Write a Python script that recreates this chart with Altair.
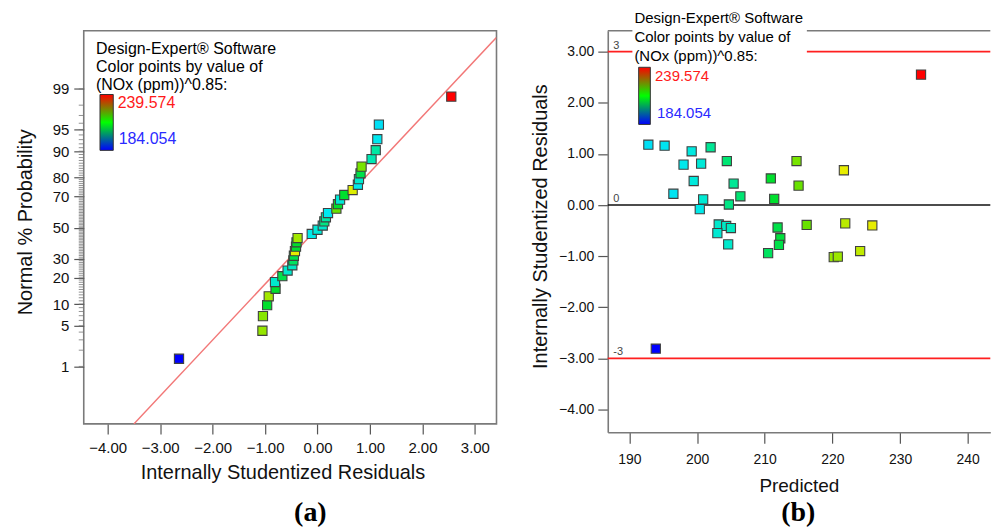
import altair as alt
import pandas as pd
from statistics import NormalDist

# ---------------- data ----------------
# (a) normal probability plot of residuals
prob_resid = [-2.64, -1.05, -1.04, -0.96, -0.93, -0.80, -0.81, -0.67, -0.57, -0.48,
              -0.46, -0.45, -0.43, -0.41, -0.40, -0.38, -0.11, 0.00, 0.10, 0.13,
              0.16, 0.20, 0.36, 0.39, 0.43, 0.51, 0.67, 0.77, 0.79, 0.82,
              0.84, 1.03, 1.11, 1.14, 1.17, 2.55]
prob_pct = [1.4, 4.2, 6.9, 9.7, 12.5, 15.3, 18.1, 20.8, 23.6, 26.4,
            29.2, 31.9, 34.7, 37.5, 40.3, 43.1, 45.8, 48.6, 51.4, 54.2,
            56.9, 59.7, 62.5, 65.3, 68.1, 70.8, 73.6, 76.4, 79.2, 81.9,
            84.7, 87.5, 90.3, 93.1, 95.8, 98.6]
prob_value = [184.054, 218, 217, 211, 219, 211, 202, 210, 202, 203,
              209, 210, 225, 211, 211, 219, 199, 201, 202, 207,
              205, 198, 215, 211, 201, 211, 224, 198.5, 202, 210,
              216, 204, 205, 198, 197, 239.574]
line_resid = [-3.50, 3.41]
line_z = [-3.29, 3.19]
major_pct = [1, 5, 10, 20, 30, 50, 70, 80, 90, 95, 99]
minor_pct = list(range(1, 100))
left_x_ticks = [-4, -3, -2, -1, 0, 1, 2, 3]

# (b) residuals vs predicted
pred = [192.8, 195.2, 199.2, 202.0, 198.0, 200.6, 204.4, 214.7, 221.7, 199.5,
        205.4, 210.9, 215.0, 196.5, 206.4, 200.9, 211.4, 204.7, 200.4, 203.2,
        204.3, 205.0, 203.0, 204.6, 211.9, 216.2, 221.9, 225.9, 212.3, 212.1,
        210.5, 220.2, 220.8, 224.1, 233.1, 193.9]
resid = [1.18, 1.16, 1.05, 1.13, 0.79, 0.81, 0.86, 0.86, 0.68, 0.47,
         0.42, 0.52, 0.38, 0.22, 0.17, 0.11, 0.12, 0.01, -0.08, -0.38,
         -0.41, -0.45, -0.55, -0.77, -0.44, -0.39, -0.36, -0.40, -0.65, -0.78,
         -0.94, -1.02, -1.01, -0.90, 2.55, -2.81]
value = [197, 197.5, 200, 206, 198.5, 201, 208, 216, 225, 200.5,
         206, 211, 215, 197.5, 208, 201.5, 211, 207, 199, 202,
         202.5, 203, 201.5, 202, 210, 215, 221, 225, 210.5, 210,
         209, 218, 218.5, 221.5, 239.574, 184.054]
red_limits = [3, -3]
zero_limit = [0]
limit_vals = [3, 0, -3]
limit_text = ["3", "0", "-3"]
right_x_ticks = [190, 200, 210, 220, 230, 240]
right_y_ticks = [-4, -3, -2, -1, 0, 1, 2, 3]

legend_lines = ["Design-Expert® Software", "Color points by value of", "(NOx (ppm))^0.85:"]
val_hi, val_lo = "239.574", "184.054"

# ---------------- frames ----------------
nd = NormalDist()
left_df = pd.DataFrame({"resid": prob_resid, "pct": prob_pct, "value": prob_value})
line_df = pd.DataFrame({"resid": line_resid, "z": line_z})
minor_df = pd.DataFrame({"pct": minor_pct})
right_df = pd.DataFrame({"pred": pred, "resid": resid, "value": value})
red_df = pd.DataFrame({"r": red_limits})
zero_df = pd.DataFrame({"r": zero_limit})
lab_df = pd.DataFrame({"r": limit_vals, "t": limit_text})
one = pd.DataFrame({"k": [0]})

FONT = "Liberation Sans"
GRAY = "#7a7a7a"

color_scale = alt.Scale(domain=[184.054, 197.9, 211.8, 225.7, 239.574],
                        range=["#0000ff", "#00e8f0", "#00dd00", "#eeee00", "#ff0000"])

bar_fill = alt.LinearGradient(gradient="linear", x1=0, x2=0, y1=1, y2=0,
                              stops=[alt.GradientStop(color="#0000ff", offset=0),
                                     alt.GradientStop(color="#00ff00", offset=0.5),
                                     alt.GradientStop(color="#ff0000", offset=1)])


def txt(s, x, y, size, color="black", align="left", baseline="middle",
        font=FONT, weight="normal"):
    return alt.Chart(one).mark_text(text=s, fontSize=size, color=color, align=align,
                                    baseline=baseline, font=font, fontWeight=weight).encode(
        x=alt.value(x), y=alt.value(y))


def colorbar(x1, x2, y1, y2):
    return alt.Chart(one).mark_rect(fill=bar_fill, stroke="#333333", strokeWidth=1).encode(
        x=alt.value(x1), x2=alt.value(x2), y=alt.value(y1), y2=alt.value(y2))


# ---------------- panel (a) ----------------
LW, LH = 414, 394.4
lx_scale = alt.Scale(domain=[-4.456, 3.412], nice=False, zero=False)
ly_scale = alt.Scale(domain=[-3.290, 3.302], nice=False, zero=False)

lx_axis = alt.Axis(values=left_x_ticks, format=".2f", labelFontSize=15, labelFont=FONT,
                   labelColor="#111", tickSize=10, tickColor="#555", tickWidth=1.2,
                   labelPadding=7, domain=False, grid=False,
                   title="Internally Studentized Residuals", titleFont=FONT,
                   titleFontSize=20, titleFontWeight="normal", titleColor="#111",
                   titleX=199.3, titleY=54.3, titleBaseline="alphabetic", titleAlign="center")

major_axis = alt.Axis(values=[nd.inv_cdf(p / 100) for p in major_pct],
                      labelExpr="format(cumulativeNormal(datum.value) * 100, '.0f')",
                      labelFontSize=15, labelFont=FONT, labelColor="#111",
                      tickSize=10, tickColor="#555", tickWidth=1.2, labelPadding=5,
                      domain=False, grid=False, orient="left",
                      title="Normal % Probability", titleFont=FONT, titleFontSize=20,
                      titleFontWeight="normal", titleColor="#111", titleAngle=270,
                      titleX=-52, titleY=191.7, titleBaseline="alphabetic", titleAlign="center")

minor_ticks = alt.Chart(minor_df).transform_calculate(
    z="quantileNormal(datum.pct / 100)"
).mark_rule(color="#777777", strokeWidth=0.8).encode(
    y=alt.Y("z:Q", scale=ly_scale, axis=major_axis),
    x=alt.value(-5), x2=alt.value(0))

ref_line = alt.Chart(line_df).mark_line(color="#f27777", strokeWidth=1.5, clip=True).encode(
    x=alt.X("resid:Q", scale=lx_scale, axis=lx_axis),
    y=alt.Y("z:Q", scale=ly_scale, axis=major_axis))

pts_left = alt.Chart(left_df).transform_calculate(
    z="quantileNormal(datum.pct / 100)"
).mark_square(size=85, filled=True, opacity=1, stroke="#404040", strokeWidth=1.1).encode(
    x=alt.X("resid:Q", scale=lx_scale, axis=lx_axis),
    y=alt.Y("z:Q", scale=ly_scale, axis=major_axis),
    color=alt.Color("value:Q", scale=color_scale, legend=None))

left_layers = [minor_ticks, ref_line, pts_left]
for i, s in enumerate(legend_lines):
    left_layers.append(txt(s, 12.3, 18.4 + 17.8 * i, 16))
left_layers += [
    colorbar(16.3, 29.6, 64, 120),
    txt(val_hi, 34, 72.7, 16, color="#ff1a1a"),
    txt(val_lo, 35, 109, 16, color="#2a2aff"),
    txt("(a)", 227.3, 491.7, 28, font="Liberation Serif", weight="bold",
        align="center", baseline="alphabetic"),
    alt.Chart(one).mark_rule(color="white", strokeWidth=1).encode(
        x=alt.value(-82.7), x2=alt.value(-82.7), y=alt.value(-28.3), y2=alt.value(-28.3)),
]

left = alt.layer(*left_layers).properties(
    width=LW, height=LH,
    view=alt.ViewBackground(stroke=GRAY, strokeWidth=1.6))

# ---------------- panel (b) ----------------
RW, RH = 383.7, 402.7
rx_scale = alt.Scale(domain=[186.80, 243.34], nice=False, zero=False)
ry_scale = alt.Scale(domain=[-4.443, 3.409], nice=False, zero=False)

rx_axis = alt.Axis(values=right_x_ticks, format="d", labelFontSize=14, labelFont=FONT,
                   labelColor="#111", tickSize=11, tickColor="#555", tickWidth=1.2,
                   labelPadding=9, domain=True, domainColor=GRAY, domainWidth=1.6, grid=False,
                   title="Predicted", titleFont=FONT, titleFontSize=19,
                   titleFontWeight="normal", titleColor="#111",
                   titleX=191.7, titleY=59.7, titleBaseline="alphabetic", titleAlign="center")
ry_axis = alt.Axis(values=right_y_ticks, format=".2f", labelFontSize=14, labelFont=FONT,
                   labelColor="#111", tickSize=10, tickColor="#555", tickWidth=1.2,
                   labelPadding=4, domain=True, domainColor=GRAY, domainWidth=1.6, grid=False,
                   title="Internally Studentized Residuals", titleFont=FONT, titleFontSize=20,
                   titleFontWeight="normal", titleColor="#111", titleAngle=270,
                   titleX=-61.6, titleY=196, titleBaseline="alphabetic", titleAlign="center")

top_frame = alt.Chart(one).mark_rule(color=GRAY, strokeWidth=1.6).encode(y=alt.value(0))
red_rules = alt.Chart(red_df).mark_rule(color="#ff1f1f", strokeWidth=1.8).encode(
    y=alt.Y("r:Q", scale=ry_scale, axis=ry_axis))
zero_rule = alt.Chart(zero_df).mark_rule(color="#111111", strokeWidth=1.5).encode(
    y=alt.Y("r:Q", scale=ry_scale, axis=ry_axis))
lim_labels = alt.Chart(lab_df).mark_text(fontSize=11, color="#444", align="left",
                                         baseline="alphabetic", dy=-3, font=FONT).encode(
    x=alt.value(5.5), y=alt.Y("r:Q", scale=ry_scale, axis=ry_axis), text="t:N")

pts_right = alt.Chart(right_df).mark_square(size=85, filled=True, opacity=1, stroke="#404040",
                                            strokeWidth=1.1).encode(
    x=alt.X("pred:Q", scale=rx_scale, axis=rx_axis),
    y=alt.Y("resid:Q", scale=ry_scale, axis=ry_axis),
    color=alt.Color("value:Q", scale=color_scale, legend=None))

white_box = alt.Chart(one).mark_rect(color="white").encode(
    x=alt.value(24.7), x2=alt.value(199.7), y=alt.value(-28.3), y2=alt.value(30))

right_layers = [top_frame, red_rules, zero_rule, lim_labels, pts_right, white_box]
for i, s in enumerate(legend_lines):
    right_layers.append(txt(s, 26.7, -12.3 + 18.7 * i, 15))
right_layers += [
    colorbar(31, 42.7, 36.7, 94),
    txt(val_hi, 47.4, 45, 15, color="#ff1a1a"),
    txt(val_lo, 49.4, 82.7, 15, color="#2a2aff"),
    txt("(b)", 191, 491.7, 28, font="Liberation Serif", weight="bold",
        align="center", baseline="alphabetic"),
]

right = alt.layer(*right_layers).properties(
    width=RW, height=RH,
    view=alt.ViewBackground(stroke="transparent"))

chart = alt.hconcat(left, right, spacing=111.6, bounds="flush").properties(
    padding=0, background="white"
).configure(font=FONT).configure_view(stroke=GRAY)

chart.save("out.html", embed_options={"renderer": "svg", "actions": False})
